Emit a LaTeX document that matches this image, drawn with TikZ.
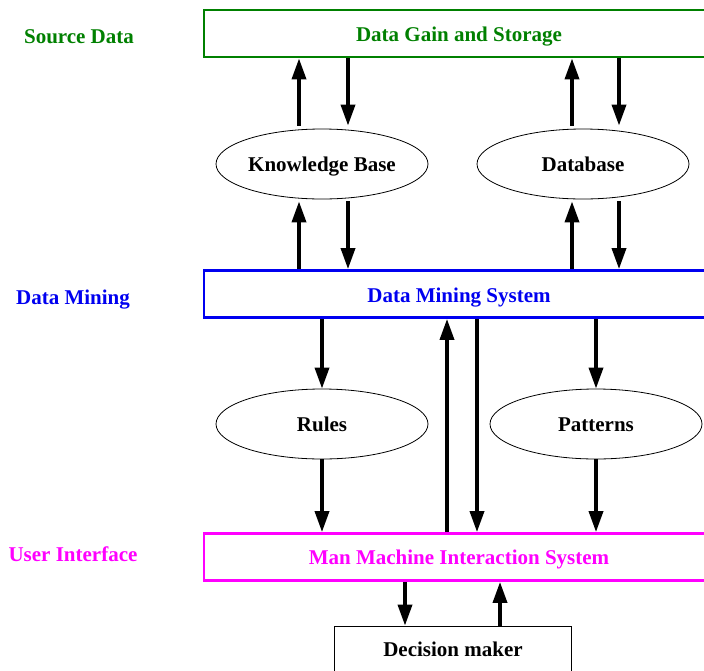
\documentclass[tikz,border=0pt]{standalone}
\usepackage{fontspec}
\setmainfont{Liberation Serif}
\usetikzlibrary{arrows.meta,shapes.geometric}
\definecolor{srcgreen}{RGB}{0,128,0}
\definecolor{dmblue}{RGB}{0,0,240}
\definecolor{uimag}{RGB}{255,0,255}
\begin{document}
\begin{tikzpicture}[x=1pt,y=-1pt,
  lbl/.style={font=\fontsize{21}{24}\selectfont\bfseries,text height=14pt,text depth=0pt},
  layer/.style={draw,line width=2.8pt,minimum width=510pt,minimum height=47pt,inner sep=0pt},
  oval/.style={draw,ellipse,line width=0.8pt,minimum width=212pt,minimum height=70pt,inner sep=0pt,lbl},
  arr/.style={line width=3.6pt,-{Triangle[length=21pt,width=14pt]}}]
\useasboundingbox (0,0) rectangle (704,670);
\clip (0,0) rectangle (704,670);

% three horizontal layers
\node[layer,draw=srcgreen] (store) at (459,33.5) {};
\node[layer,draw=dmblue] (dms) at (459,294) {};
\node[layer,draw=uimag] (mmis) at (459,557) {};
\node[lbl,text=srcgreen] (storetxt) at (459,34) {Data Gain and Storage};
\node[lbl,text=dmblue] (dmstxt) at (459,295) {Data Mining System};
\node[lbl,text=uimag] (mmistxt) at (459,557) {Man Machine Interaction System};

% layer captions
\node[lbl,text=srcgreen] (lsrc) at (79,36) {Source Data};
\node[lbl,text=dmblue] (ldm) at (73,297) {Data Mining};
\node[lbl,text=uimag] (lui) at (73,554) {User Interface};

% knowledge stores and mining results
\node[oval] (kb) at (322,164) {Knowledge Base};
\node[oval] (db) at (583,164) {Database};
\node[oval] (rules) at (322,424) {Rules};
\node[oval] (pat) at (596,424) {Patterns};

% decision maker
\node[draw,line width=0.8pt,minimum width=237pt,minimum height=60pt,inner sep=0pt] (dec) at (452.5,656) {};
\node[lbl] (dectxt) at (453,649) {Decision maker};

% arrow columns
\coordinate (a1) at (299,0);
\coordinate (a2) at (348,0);
\coordinate (a3) at (572,0);
\coordinate (a4) at (619,0);
\coordinate (a5) at (322,0);
\coordinate (a6) at (596,0);
\coordinate (a7) at (447,0);
\coordinate (a8) at (477,0);
\coordinate (a9) at (405,0);
\coordinate (a10) at (500,0);

\draw[arr] ([yshift=3pt]kb.north -| a1) -- (store.south -| a1);
\draw[arr] (store.south -| a2) -- ([yshift=3pt]kb.north -| a2);
\draw[arr] ([yshift=3pt]db.north -| a3) -- (store.south -| a3);
\draw[arr] (store.south -| a4) -- ([yshift=3pt]db.north -| a4);

\draw[arr] (dms.north -| a1) -- ([yshift=-2pt]kb.south -| a1);
\draw[arr] ([yshift=-2pt]kb.south -| a2) -- (dms.north -| a2);
\draw[arr] (dms.north -| a3) -- ([yshift=-2pt]db.south -| a3);
\draw[arr] ([yshift=-2pt]db.south -| a4) -- (dms.north -| a4);

\draw[arr] (dms.south -| a5) -- (rules.north -| a5);
\draw[arr] (rules.south -| a5) -- (mmis.north -| a5);
\draw[arr] (dms.south -| a6) -- (pat.north -| a6);
\draw[arr] (pat.south -| a6) -- (mmis.north -| a6);

\draw[arr] (mmis.north -| a7) -- (dms.south -| a7);
\draw[arr] (dms.south -| a8) -- (mmis.north -| a8);

\draw[arr] (mmis.south -| a9) -- (dec.north -| a9);
\draw[arr] (dec.north -| a10) -- (mmis.south -| a10);
\end{tikzpicture}
\end{document}
